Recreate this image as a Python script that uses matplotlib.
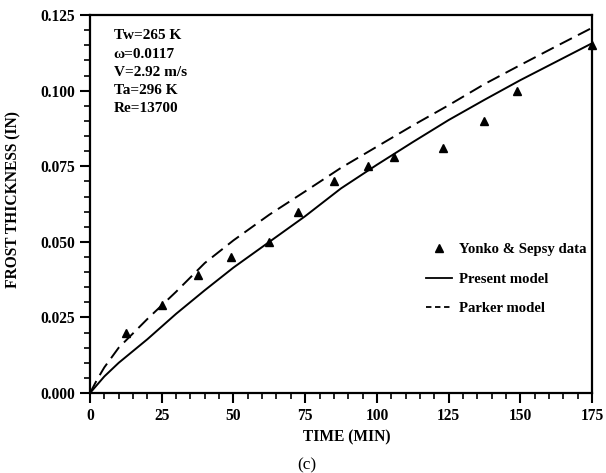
import matplotlib
matplotlib.use('Agg')
import matplotlib.pyplot as plt
from matplotlib.ticker import MultipleLocator, FormatStrFormatter
from matplotlib.lines import Line2D

plt.rcParams['font.family'] = ['Liberation Serif', 'DejaVu Serif']

# Yonko & Sepsy experimental points
data_time = [12.5, 25, 37.5, 49, 62.5, 72.5, 85, 97, 106, 123, 137.5, 149, 175]
data_thick = [0.020, 0.029, 0.039, 0.045, 0.050, 0.060, 0.070, 0.075, 0.078,
              0.081, 0.090, 0.100, 0.115]

# present model (solid)
present_time = [0, 5, 10, 20, 30, 40, 50, 62.5, 75, 87.5, 100, 112.5, 125,
                137.5, 150, 162.5, 175]
present_thick = [0.0, 0.0055, 0.0100, 0.0178, 0.0262, 0.0340, 0.0415, 0.0500,
                 0.0585, 0.0677, 0.0755, 0.0830, 0.0903, 0.0970, 0.1035,
                 0.1096, 0.1157]

# Parker model (dashed)
parker_time = [0, 2.5, 5, 10, 20, 30, 40, 50, 62.5, 75, 87.5, 100, 112.5, 125,
               137.5, 150, 162.5, 175]
parker_thick = [0.0, 0.0045, 0.0085, 0.0150, 0.0245, 0.0335, 0.0430, 0.0505,
                0.0590, 0.0667, 0.0745, 0.0815, 0.0885, 0.0952, 0.1022,
                0.1085, 0.1147, 0.1208]

params = ['Tw=265 K', '\u03c9=0.0117', 'V=2.92 m/s', 'Ta=296 K', 'Re=13700']

fig = plt.figure(figsize=(6.06, 4.73), dpi=100)
ax = fig.add_axes([0.1485, 0.169, 0.8285, 0.799])

ax.plot(present_time, present_thick, color='black', lw=1.4)
ax.plot(parker_time, parker_thick, color='black', lw=1.4, dashes=(7, 3.5))
ax.plot(data_time, data_thick, linestyle='none', marker='^', color='black',
        markersize=6, clip_on=False)

ax.set_xlim(0, 175)
ax.set_ylim(0, 0.125)
ax.xaxis.set_major_locator(MultipleLocator(25))
ax.xaxis.set_minor_locator(MultipleLocator(5))
ax.yaxis.set_major_locator(MultipleLocator(0.025))
ax.yaxis.set_minor_locator(MultipleLocator(0.005))
ax.yaxis.set_major_formatter(FormatStrFormatter('%.3f'))
ax.tick_params(which='major', direction='out', length=7, width=1.5,
               labelsize=11.2, pad=4)
ax.tick_params(which='minor', direction='out', length=4, width=1.2)
for lab in ax.get_xticklabels() + ax.get_yticklabels():
    lab.set_fontweight('bold')
for sp in ax.spines.values():
    sp.set_linewidth(1.6)

ax.set_xlabel('TIME (MIN)', fontsize=11.2, fontweight='bold')
ax.set_ylabel('FROST THICKNESS (IN)', fontsize=11.2, fontweight='bold')
ax.xaxis.set_label_coords(0.512, -0.095)
ax.yaxis.set_label_coords(-0.137, 0.511)

ax.text(0.047, 0.962, '\n'.join(params), transform=ax.transAxes, fontsize=11,
        fontweight='bold', va='top', ha='left', linespacing=1.52)

handles = [
    Line2D([], [], linestyle='none', marker='^', color='black', markersize=6),
    Line2D([], [], color='black', lw=1.3),
    Line2D([], [], color='black', lw=1.3, dashes=(3, 2)),
]
labels = ['Yonko & Sepsy data', 'Present model', 'Parker model']
ax.legend(handles, labels, loc='upper left', bbox_to_anchor=(0.657, 0.413),
          frameon=False, prop={'weight': 'bold', 'size': 10.6},
          handlelength=1.8, labelspacing=1.1, handletextpad=0.45,
          borderaxespad=0)

fig.text(0.507, 0.017, '(c)', fontsize=12.5, ha='center', va='center')

fig.savefig('out.png', dpi=100)
